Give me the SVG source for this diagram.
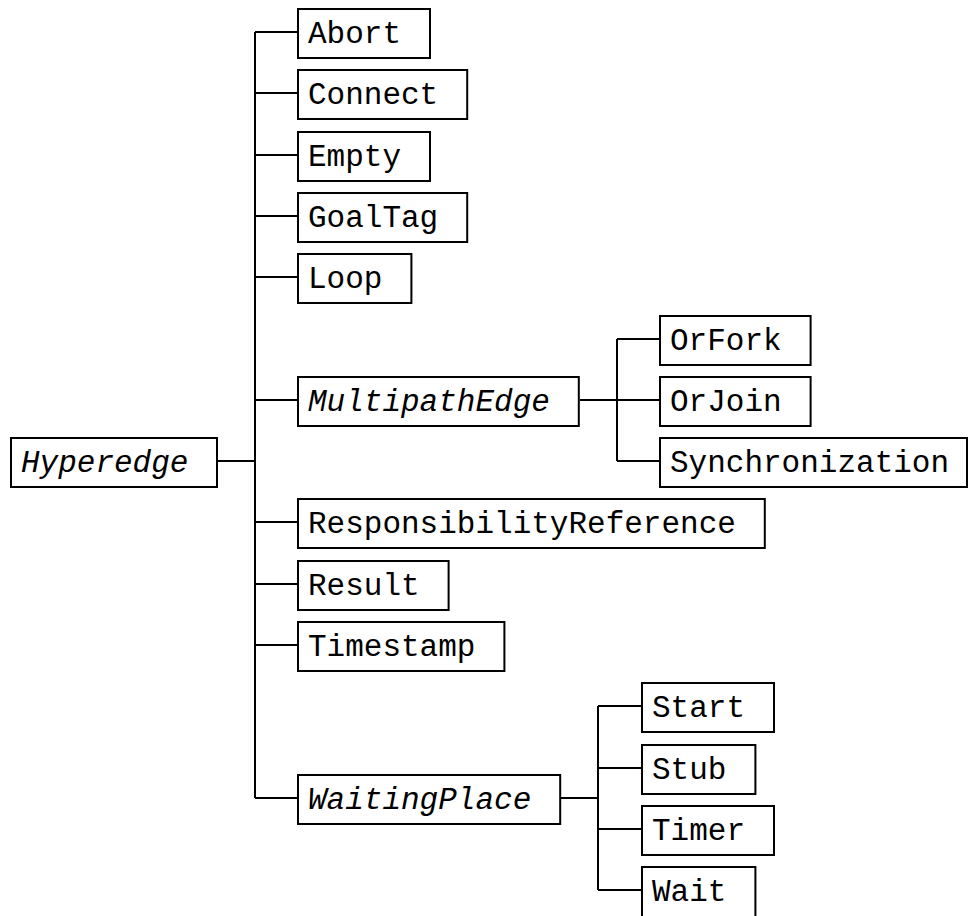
<svg xmlns="http://www.w3.org/2000/svg" width="970" height="916" viewBox="0 0 970 916">
  <style>
    .box { fill: #ffffff; stroke: #000000; stroke-width: 2; }
    .lbl { font-family: "Liberation Mono", "Courier New", monospace; font-size: 31px; fill: #000000; }
    .abs { font-style: italic; }
    .wire { fill: none; stroke: #000000; stroke-width: 2; }
  </style>
  <rect width="970" height="916" fill="#ffffff"/>

  <!-- connectors: class hierarchy tree -->
  <g id="connectors" class="wire">
    <path d="M217 461 H255"/>
    <path d="M255 32 V798"/>
    <path d="M255 32 H297 M255 93 H297 M255 155 H297 M255 216 H297 M255 277 H297 M255 400 H297 M255 522 H297 M255 584 H297 M255 645 H297 M255 798 H297"/>
    <path d="M580 400 H617 M617 339 V461 M617 339 H659 M617 400 H659 M617 461 H659"/>
    <path d="M561 798 H598 M598 706 V890 M598 706 H641 M598 768 H641 M598 829 H641 M598 890 H641"/>
  </g>

  <g id="Hyperedge"><rect class="box" x="11" y="438" width="206" height="49"/><text class="lbl abs" x="21" y="472">Hyperedge</text></g>

  <g id="Abort"><rect class="box" x="298" y="9" width="132" height="49"/><text class="lbl" x="308" y="43">Abort</text></g>
  <g id="Connect"><rect class="box" x="298" y="70" width="169.2" height="49"/><text class="lbl" x="308" y="104">Connect</text></g>
  <g id="Empty"><rect class="box" x="298" y="132" width="132" height="49"/><text class="lbl" x="308" y="166">Empty</text></g>
  <g id="GoalTag"><rect class="box" x="298" y="193" width="169.2" height="49"/><text class="lbl" x="308" y="227">GoalTag</text></g>
  <g id="Loop"><rect class="box" x="298" y="254" width="113.4" height="49"/><text class="lbl" x="308" y="288">Loop</text></g>
  <g id="MultipathEdge"><rect class="box" x="298" y="377" width="280.8" height="49"/><text class="lbl abs" x="308" y="411">MultipathEdge</text></g>
  <g id="ResponsibilityReference"><rect class="box" x="298" y="499" width="466.8" height="49"/><text class="lbl" x="308" y="533">ResponsibilityReference</text></g>
  <g id="Result"><rect class="box" x="298" y="561" width="150.6" height="49"/><text class="lbl" x="308" y="595">Result</text></g>
  <g id="Timestamp"><rect class="box" x="298" y="622" width="206.4" height="49"/><text class="lbl" x="308" y="656">Timestamp</text></g>
  <g id="WaitingPlace"><rect class="box" x="298" y="775" width="262.2" height="49"/><text class="lbl abs" x="308" y="809">WaitingPlace</text></g>

  <g id="OrFork"><rect class="box" x="660" y="316" width="150.6" height="49"/><text class="lbl" x="670" y="350">OrFork</text></g>
  <g id="OrJoin"><rect class="box" x="660" y="377" width="150.6" height="49"/><text class="lbl" x="670" y="411">OrJoin</text></g>
  <g id="Synchronization"><rect class="box" x="660" y="438" width="307" height="49"/><text class="lbl" x="670" y="472">Synchronization</text></g>

  <g id="Start"><rect class="box" x="642" y="683" width="132" height="49"/><text class="lbl" x="652" y="717">Start</text></g>
  <g id="Stub"><rect class="box" x="642" y="745" width="113.4" height="49"/><text class="lbl" x="652" y="779">Stub</text></g>
  <g id="Timer"><rect class="box" x="642" y="806" width="132" height="49"/><text class="lbl" x="652" y="840">Timer</text></g>
  <g id="Wait"><rect class="box" x="642" y="867" width="113.4" height="54"/><text class="lbl" x="652" y="901">Wait</text></g>
</svg>
